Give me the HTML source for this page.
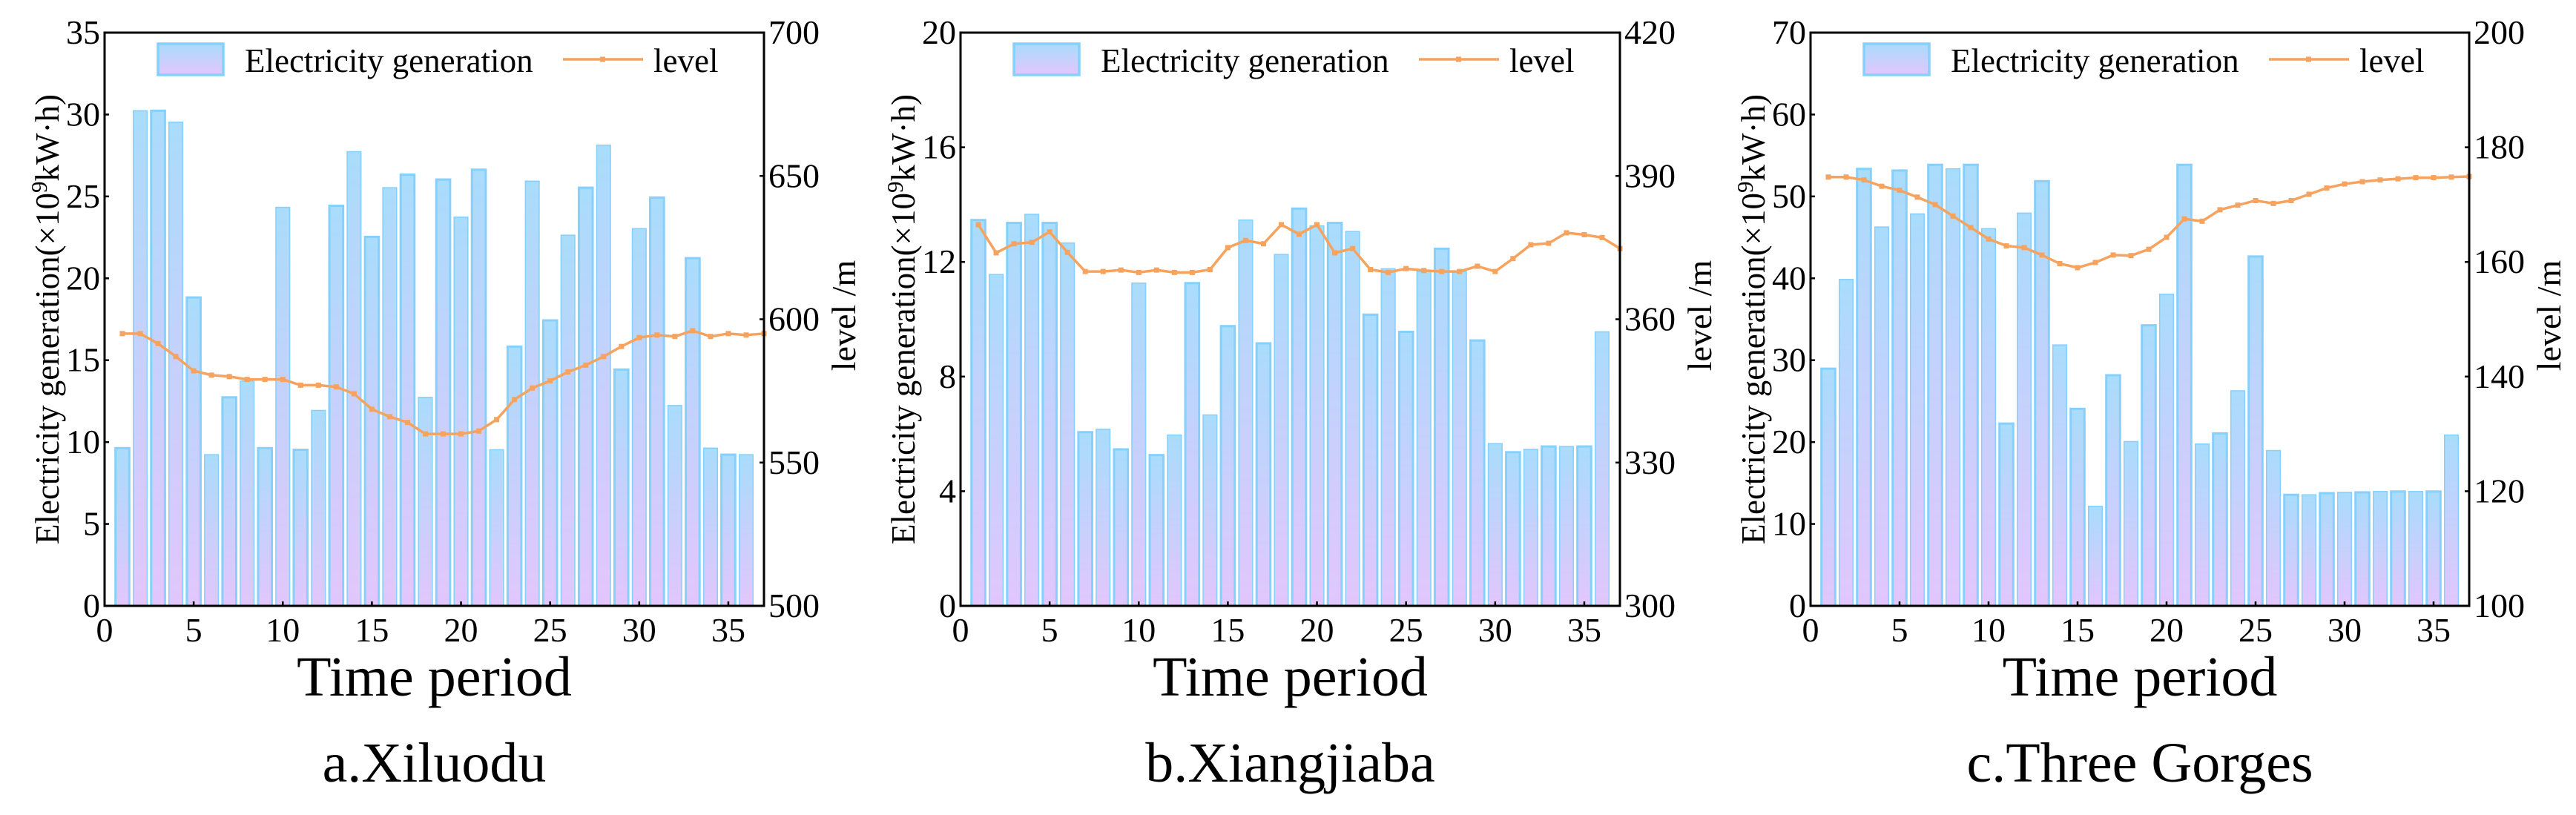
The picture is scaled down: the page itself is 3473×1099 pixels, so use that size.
<!DOCTYPE html>
<html><head><meta charset="utf-8"><style>
html,body{margin:0;padding:0;background:#fff}
svg{display:block}
svg text{font-family:"Liberation Serif","Times New Roman",Times,serif;fill:#000}
</style></head><body>
<svg id="chart" xmlns="http://www.w3.org/2000/svg" width="3473" height="1099" viewBox="0 0 3473 1099" font-family="'Liberation Serif', 'Times New Roman', Times, serif">
<defs>
<linearGradient id="barGrad" x1="0" y1="0" x2="0" y2="1">
<stop offset="0" stop-color="#a9dcfc"/><stop offset="1" stop-color="#e2c6fc"/>
</linearGradient>
</defs>
</svg>
<script>
// Xiluodu
const xlGen = [9.7,30.3,30.3,29.6,18.9,9.3,12.8,13.8,9.7,24.4,9.6,12.0,24.5,27.8,22.6,25.6,26.4,12.8,26.1,23.8,26.7,9.6,15.9,26.0,17.5,22.7,25.6,28.2,14.5,23.1,25.0,12.3,21.3,9.7,9.3,9.3];
const xlLevel = [595,595,591.5,587,582,580.5,580,579,579,579,577,577,576.4,574,568.6,566,564,560,560,560,561,565,572,576,578.5,581.6,584,587,590.5,593.6,594.5,594,596,594,595,594.5,595];
// Xiangjiaba
const xjGen = [13.5,11.6,13.4,13.7,13.4,12.7,6.1,6.2,5.5,11.3,5.3,6.0,11.3,6.7,9.8,13.5,9.2,12.3,13.9,13.3,13.4,13.1,10.2,11.8,9.6,11.7,12.5,11.7,9.3,5.7,5.4,5.5,5.6,5.6,5.6,9.6];
const xjLevel = [379.8,373.9,375.8,376.1,378.3,374,370,370,370.3,369.8,370.3,369.8,369.8,370.4,375,376.5,375.8,379.8,377.8,379.8,373.9,374.8,370.4,369.8,370.6,370.2,370,370,371.1,370,372.7,375.6,375.9,378.1,377.7,377.1,374.8];
// Three Gorges
const tgGen = [29.1,40,53.5,46.4,53.3,48,54,53.5,54,46.2,22.4,48.1,52,32,24.2,12.3,28.3,20.2,34.4,38.2,54,19.9,21.2,26.4,42.8,19.1,13.7,13.7,13.9,14,14,14.1,14.1,14.1,14.1,21];
const tgLevel = [174.8,174.8,174.3,173.2,172.5,171.3,170,168,166,164,162.8,162.5,161.2,159.7,159,159.9,161.2,161.1,162.2,164.3,167.5,167.1,169.1,169.9,170.7,170.2,170.7,171.8,172.9,173.6,174,174.3,174.5,174.7,174.7,174.8,174.9];
const xTicks = [0,5,10,15,20,25,30,35];
const xlLeftTicks = [0,5,10,15,20,25,30,35];
const xlRightTicks = [500,550,600,650,700];
const xjLeftTicks = [0,4,8,12,16,20];
const xjRightTicks = [300,330,360,390,420];
const tgLeftTicks = [0,10,20,30,40,50,60,70];
const tgRightTicks = [100,120,140,160,180,200];
const captions = ["a.Xiluodu","b.Xiangjiaba","c.Three Gorges"];

const NS = "http://www.w3.org/2000/svg";
const svg = document.getElementById('chart');
const FF = "'Liberation Serif', 'Times New Roman', Times, serif";
function mk(tag, attrs, parent){
  const e = document.createElementNS(NS, tag);
  for (const k in attrs) e.setAttribute(k, attrs[k]);
  if (tag === 'text') e.setAttribute('font-family', FF);
  (parent||svg).appendChild(e);
  return e;
}

function panel(cfg){
  const {L,R,T,B,gen,level,lMax,lTicks,rMin,rMax,rTicks,caption,key} = cfg;
  const g = mk('g',{});
  
  
  const xs = v => L + (v/37)*(R-L);
  const yl = v => B - (v/lMax)*(B-T);
  const yr = v => B - ((v-rMin)/(rMax-rMin))*(B-T);
  const unit = (R-L)/37;
  gen.forEach((v,i)=>{
    const x = xs(i+1);
    const r = mk('rect',{x:x-unit*0.45+1.5,y:yl(v)+1.5,width:unit*0.9-3,height:Math.max(0,B-yl(v)-1.5),fill:'url(#barGrad)',stroke:'#85d0fc','stroke-width':(i%2===0?3:1.5)},g);
    
    
  });
  const pts = level.map((v,i)=>xs(i+1)+','+yr(v)).join(' ');
  const pl = mk('polyline',{points:pts,fill:'none',stroke:'#f5a35e','stroke-width':3.5},g);
  
  
  level.forEach((v,i)=>{
    const m = mk('rect',{x:xs(i+1)-3.5,y:yr(v)-3.5,width:7,height:7,fill:'#f5a35e'},g);
    
    
  });
  const fr = mk('rect',{x:L,y:T,width:R-L,height:B-T,fill:'none',stroke:'#000','stroke-width':3},g);
  
  
  xTicks.forEach(v=>{
    mk('line',{x1:xs(v),x2:xs(v),y1:B,y2:B-6,stroke:'#000','stroke-width':2.5},g);
    const t = mk('text',{x:xs(v),y:B+48,'font-size':46,'text-anchor':'middle'},g);
    t.textContent = v;
    
    
  });
  lTicks.forEach(v=>{
    mk('line',{x1:L,x2:L+6,y1:yl(v),y2:yl(v),stroke:'#000','stroke-width':2.5},g);
    const t = mk('text',{x:L-6,y:yl(v)+15,'font-size':46,'text-anchor':'end'},g);
    t.textContent = v;
    
    
  });
  rTicks.forEach(v=>{
    mk('line',{x1:R,x2:R-6,y1:yr(v),y2:yr(v),stroke:'#000','stroke-width':2.5},g);
    const t = mk('text',{x:R+6,y:yr(v)+15,'font-size':46,'text-anchor':'start'},g);
    t.textContent = v;
    
    
  });
  const cy = (T+B)/2;
  const lt = mk('text',{x:0,y:0,'font-size':45,'text-anchor':'middle',transform:`translate(${L-62},${cy}) rotate(-90)`},g);
  lt.innerHTML = 'Electricity generation(×10<tspan dy="-16" font-size="31">9</tspan><tspan dy="16">kW·h)</tspan>';
  
  
  const rt = mk('text',{x:0,y:0,'font-size':46,'text-anchor':'middle',transform:`translate(${R+123},${cy-5}) rotate(-90)`},g);
  rt.textContent = 'level /m';
  
  
  const xt = mk('text',{x:(L+R)/2,y:938,'font-size':76,'text-anchor':'middle'},g);
  xt.textContent = 'Time period';
  
  
  const cp = mk('text',{x:(L+R)/2,y:1054,'font-size':76,'text-anchor':'middle'},g);
  cp.textContent = caption;
  
  
  const lg = mk('g',{},g);
  
  
  const o = L+72;
  mk('rect',{x:o,y:59,width:88,height:42,fill:'url(#barGrad)',stroke:'#85d0fc','stroke-width':3.5},lg);
  const l1 = mk('text',{x:o+117,y:97,'font-size':45},lg);
  l1.textContent = 'Electricity generation';
  
  
  mk('line',{x1:o+546,x2:o+654,y1:80,y2:80,stroke:'#f5a35e','stroke-width':3.5},lg);
  mk('rect',{x:o+596,y:76.5,width:7,height:7,fill:'#f5a35e'},lg);
  const l2 = mk('text',{x:o+668,y:97,'font-size':45},lg);
  l2.textContent = 'level';
  
  
}

panel({L:141,R:1030,T:44,B:817,gen:xlGen,level:xlLevel,lMax:35,lTicks:xlLeftTicks,rMin:500,rMax:700,rTicks:xlRightTicks,caption:captions[0],key:'xiluodu'});
panel({L:1295,R:2184,T:44,B:817,gen:xjGen,level:xjLevel,lMax:20,lTicks:xjLeftTicks,rMin:300,rMax:420,rTicks:xjRightTicks,caption:captions[1],key:'xiangjiaba'});
panel({L:2441,R:3329,T:44,B:817,gen:tgGen,level:tgLevel,lMax:70,lTicks:tgLeftTicks,rMin:100,rMax:200,rTicks:tgRightTicks,caption:captions[2],key:'three-gorges'});
</script>
</body></html>
